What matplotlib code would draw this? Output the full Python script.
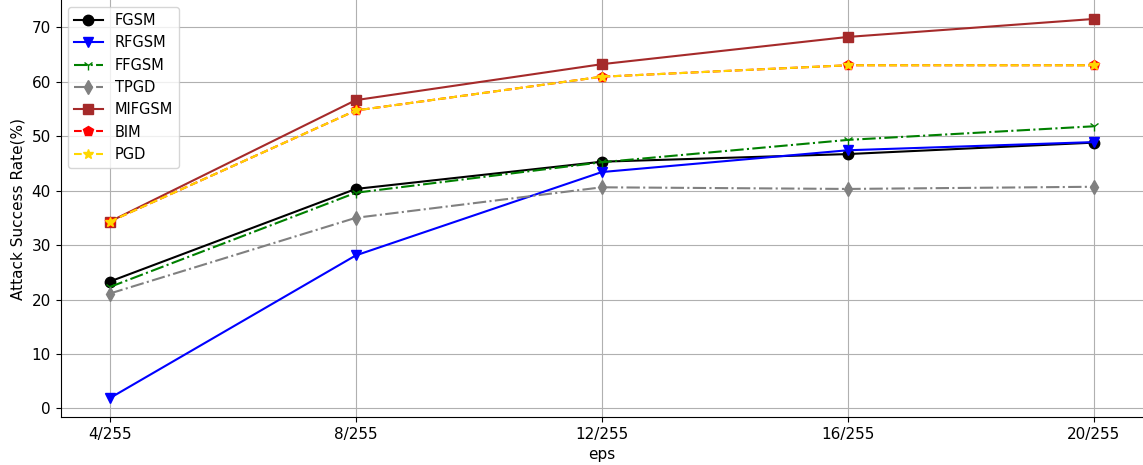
import numpy as np
import matplotlib
matplotlib.use('Agg')
from matplotlib import pyplot as plt

eps = ['4/255', '8/255', '12/255', '16/255', '20/255']

fgsm = [23.3, 40.3, 45.3, 46.7, 48.8]
rfgsm = [1.9, 28.1, 43.4, 47.4, 48.9]
ffgsm = [22.3, 39.6, 45.2, 49.3, 51.8]
tpgd = [21.1, 35.0, 40.6, 40.3, 40.7]
mifgsm = [34.3, 56.6, 63.2, 68.2, 71.5]
bim = [34.3, 54.7, 60.9, 63.0, 63.0]
pgd = [34.3, 54.7, 60.9, 63.0, 63.0]

plt.rcParams['font.size'] = 11

fig, ax = plt.subplots(figsize=(11.43, 4.65), dpi=100)
x = np.arange(len(eps))
ms = 7.5
ax.plot(x, fgsm, '-', color='black', marker='o', ms=ms, label='FGSM')
ax.plot(x, rfgsm, '-', color='blue', marker='v', ms=ms, label='RFGSM')
ax.plot(x, ffgsm, '-.', color='green', marker='1', ms=ms, label='FFGSM')
ax.plot(x, tpgd, '-.', color='gray', marker='d', ms=ms, label='TPGD')
ax.plot(x, mifgsm, '-', color='brown', marker='s', ms=ms, label='MIFGSM')
ax.plot(x, bim, '--', color='red', marker='p', ms=ms, label='BIM')
ax.plot(x, pgd, '--', color='gold', marker='*', ms=ms, label='PGD')

ax.set_xticks(x)
ax.set_xticklabels(eps)
ax.set_xlabel('eps')
ax.set_ylabel('Attack Success Rate(%)')
ax.grid(True)
ax.spines['top'].set_visible(False)
ax.spines['right'].set_visible(False)
ax.legend(loc='upper left', fontsize=10.5)
fig.subplots_adjust(left=0.053, right=1.0, top=1.0, bottom=0.103)
fig.savefig('out.png')
